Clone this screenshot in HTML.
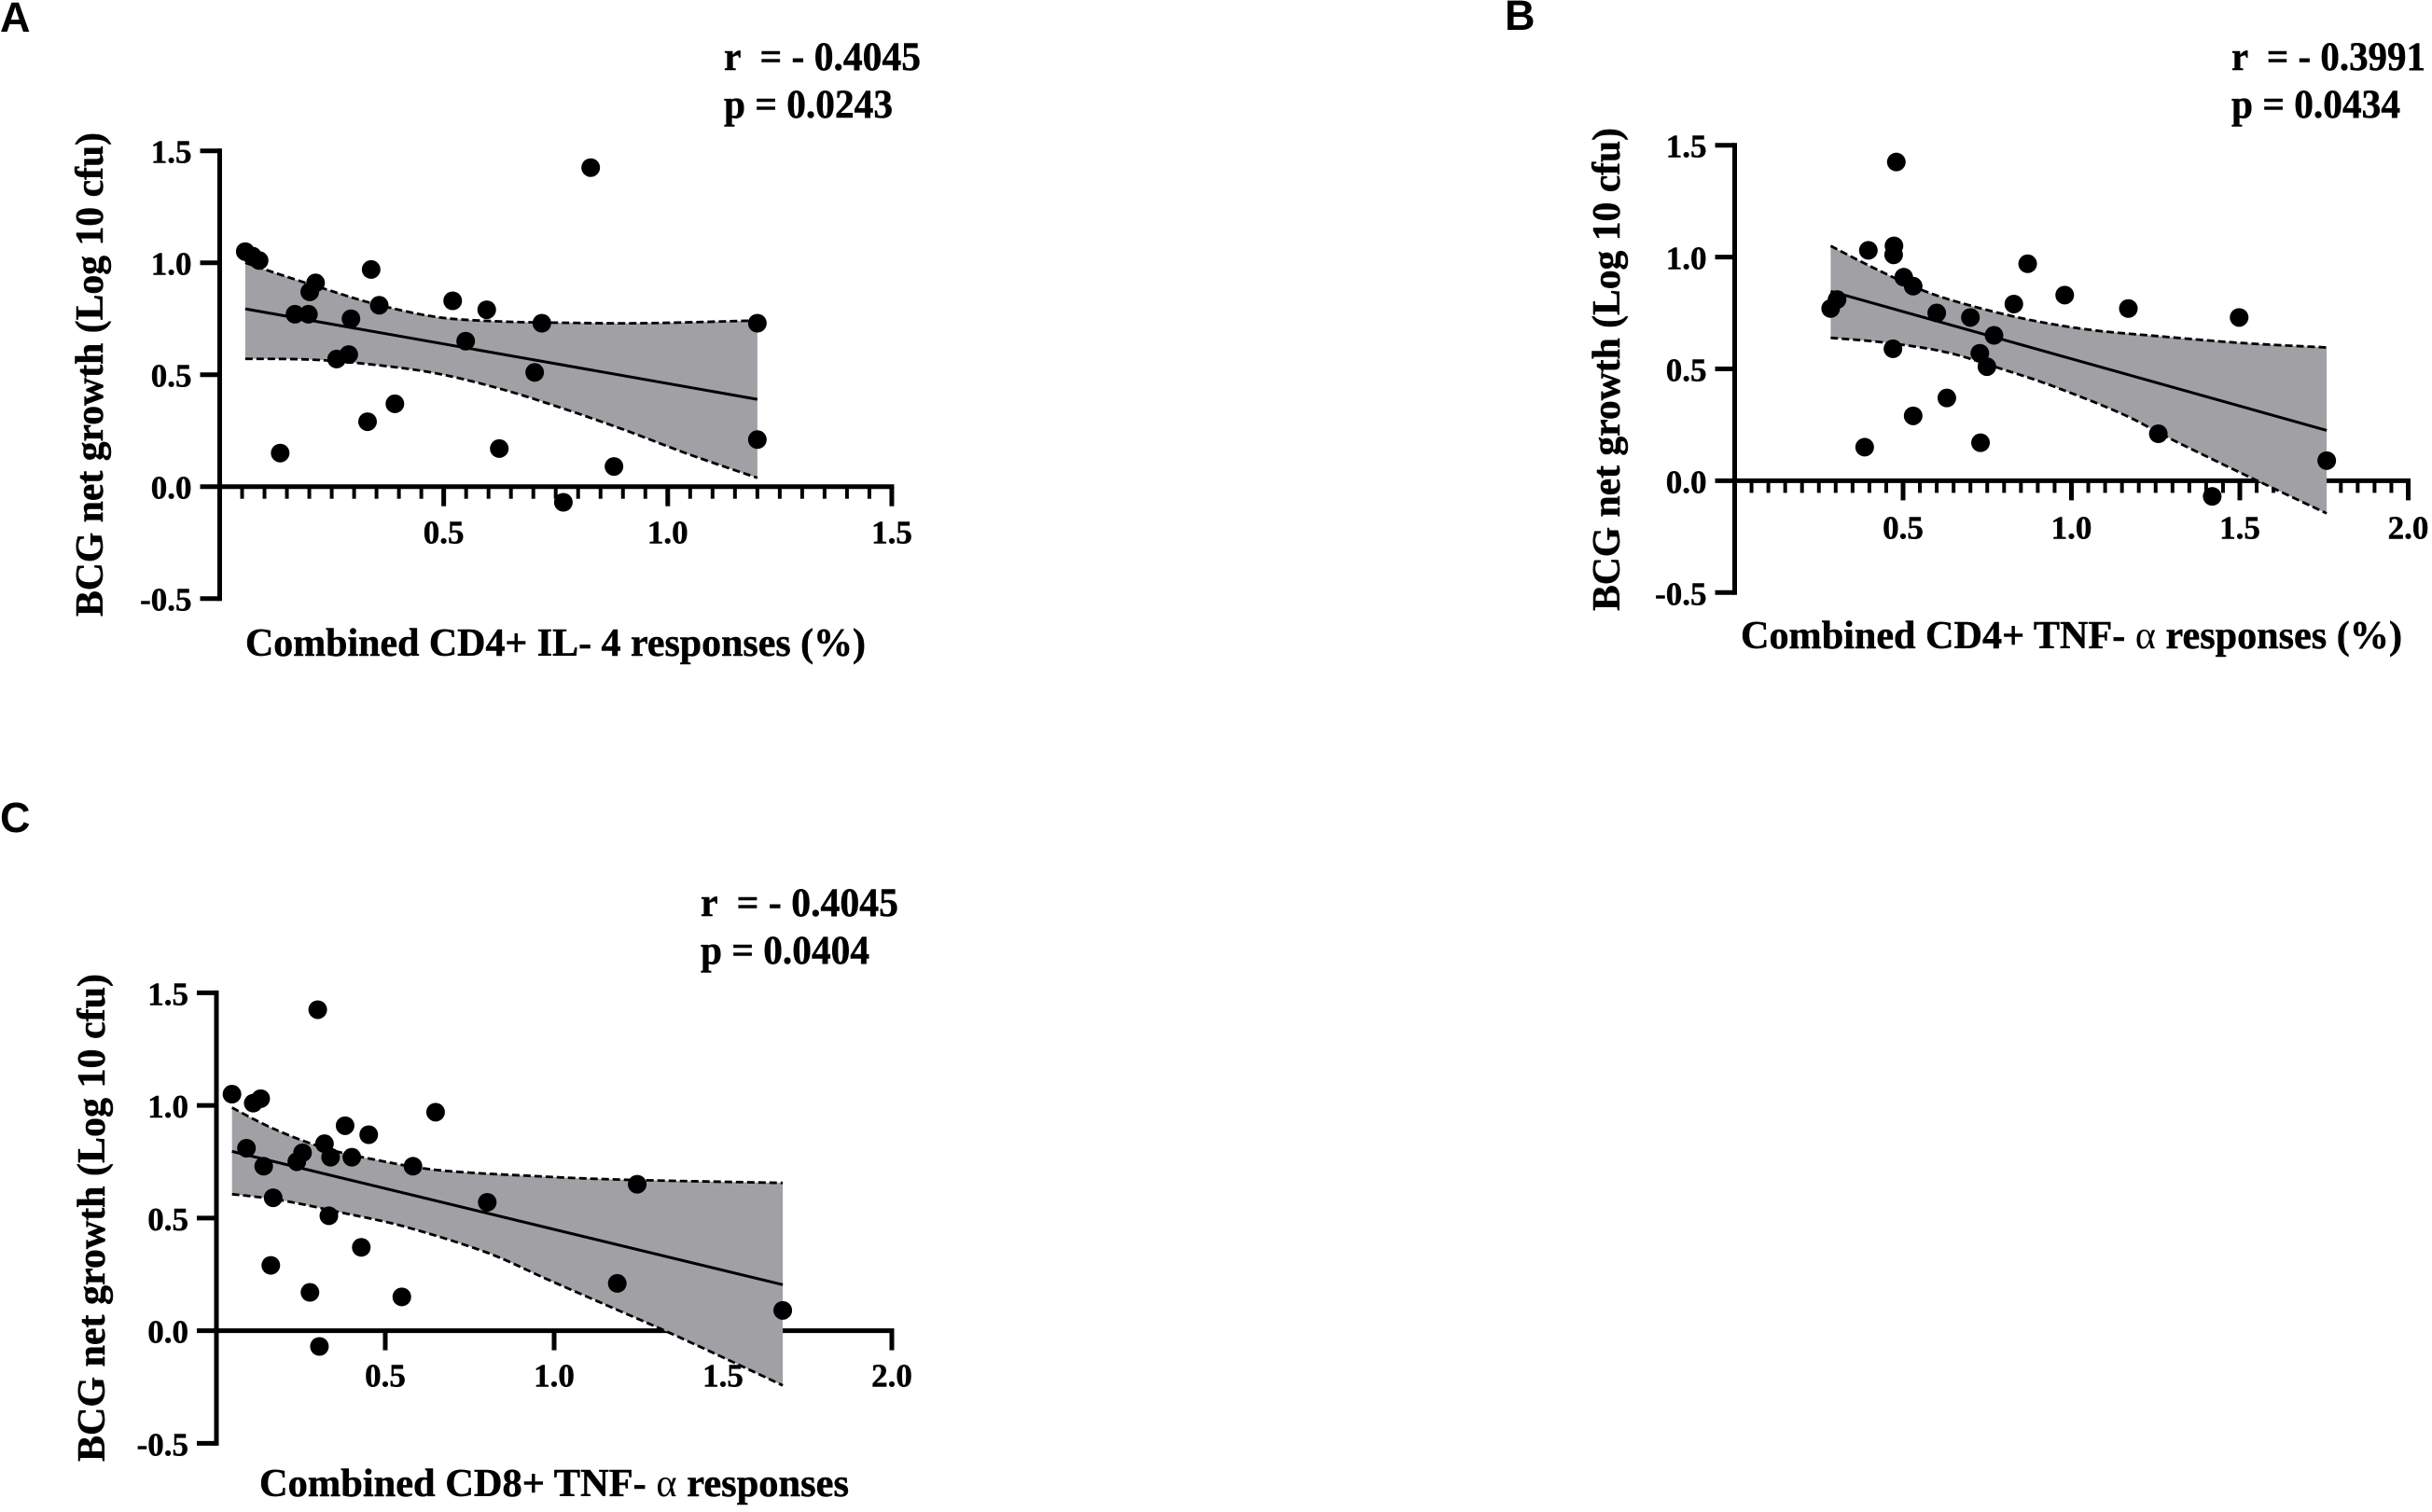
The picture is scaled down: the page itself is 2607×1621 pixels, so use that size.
<!DOCTYPE html>
<html lang="en">
<head>
<meta charset="utf-8">
<title>BCG net growth correlations</title>
<style>
html,body{margin:0;padding:0;background:#fff;}
svg{display:block;}
text{font-family:"Liberation Serif",serif;font-weight:bold;fill:#000;stroke:#000;stroke-width:.5px;}
.letter{font-family:"Liberation Sans",sans-serif;font-size:45px;stroke-width:0;}
.stat{font-size:43px;}
.title{font-size:42px;}
.tick{font-size:35px;}
.alpha{font-weight:normal;stroke-width:0;}
</style>
</head>
<body>
<svg id="figure" xmlns="http://www.w3.org/2000/svg" width="2607" height="1621" viewBox="0 0 2607 1621">
  <rect width="2607" height="1621" fill="#fff"/>

  <g id="panel-a"></g>
  <g id="panel-b"></g>
  <g id="panel-c"></g>

  <text class="letter" x="0" y="34">A</text>
  <text class="letter" x="1613" y="32">B</text>
  <text class="letter" x="0" y="892">C</text>

  <text class="stat" x="776" y="75" textLength="211" lengthAdjust="spacingAndGlyphs" xml:space="preserve">r  = - 0.4045</text>
  <text class="stat" x="776" y="126" textLength="181" lengthAdjust="spacingAndGlyphs">p = 0.0243</text>
  <text class="stat" x="2392" y="75" textLength="208" lengthAdjust="spacingAndGlyphs" xml:space="preserve">r  = - 0.3991</text>
  <text class="stat" x="2392" y="126" textLength="181" lengthAdjust="spacingAndGlyphs">p = 0.0434</text>
  <text class="stat" x="751" y="982" textLength="212" lengthAdjust="spacingAndGlyphs" xml:space="preserve">r  = - 0.4045</text>
  <text class="stat" x="751" y="1033" textLength="181" lengthAdjust="spacingAndGlyphs">p = 0.0404</text>

  <text class="title" transform="translate(110 661) rotate(-90)" textLength="519" lengthAdjust="spacingAndGlyphs">BCG net growth (Log 10 cfu)</text>
  <text class="title" transform="translate(1736 655) rotate(-90)" textLength="518" lengthAdjust="spacingAndGlyphs">BCG net growth (Log 10 cfu)</text>
  <text class="title" transform="translate(112 1567) rotate(-90)" textLength="523" lengthAdjust="spacingAndGlyphs">BCG net growth (Log 10 cfu)</text>

  <text class="title" x="263" y="703" textLength="665" lengthAdjust="spacingAndGlyphs">Combined CD4+ IL- 4 responses (%)</text>
  <text class="title" x="1866" y="695" textLength="709" lengthAdjust="spacingAndGlyphs">Combined CD4+ TNF- <tspan class="alpha">α</tspan> responses (%)</text>
  <text class="title" x="278" y="1604" textLength="632" lengthAdjust="spacingAndGlyphs">Combined CD8+ TNF- <tspan class="alpha">α</tspan> responses</text>
</svg>

<script>
// Shared y tick labels
const yTickValues = [-0.5, 0, 0.5, 1.0, 1.5];

// Panel A data
const aXTicks = [0.5, 1.0, 1.5];
const aDotsX = [0.828,0.057,0.073,0.088,0.338,0.214,0.201,0.52,0.356,0.596,0.168,0.198,0.293,0.719,1.2,0.549,0.288,0.261,0.703,0.391,0.33,1.2,0.624,0.135,0.88,0.767];
const aDotsY = [1.425,1.05,1.03,1.01,0.97,0.91,0.87,0.83,0.81,0.79,0.77,0.77,0.75,0.73,0.73,0.65,0.59,0.57,0.51,0.37,0.29,0.21,0.17,0.15,0.09,-0.07];
const aFitX = [0.057,1.2];
const aFitY = [0.794,0.39];
const aUpperX = [0.057,0.123,0.235,0.346,0.486,0.626,0.765,0.947,1.2];
const aUpperY = [1.0,0.955,0.883,0.816,0.757,0.738,0.732,0.73,0.742];
const aLowerX = [0.057,0.207,0.346,0.486,0.626,0.765,0.905,1.045,1.2];
const aLowerY = [0.571,0.567,0.544,0.505,0.437,0.35,0.252,0.146,0.039];

// Panel B data
const bXTicks = [0.5, 1.0, 1.5, 2.0];
const bDotsX = [0.48,0.473,0.397,0.472,0.87,0.502,0.53,0.98,0.304,0.829,0.285,1.169,0.6,0.70,1.498,0.77,0.47,0.728,0.749,0.63,0.53,1.258,0.73,0.386,1.758,1.418];
const bDotsY = [1.425,1.05,1.03,1.01,0.97,0.91,0.87,0.83,0.81,0.79,0.77,0.77,0.75,0.73,0.73,0.65,0.59,0.57,0.51,0.37,0.29,0.21,0.17,0.15,0.09,-0.07];
const bFitX = [0.285,1.758];
const bFitY = [0.847,0.225];
const bUpperX = [0.285,0.42,0.562,0.705,0.883,1.06,1.238,1.505,1.758];
const bUpperY = [1.05,0.946,0.849,0.781,0.717,0.674,0.649,0.616,0.596];
const bLowerX = [0.285,0.456,0.633,0.794,0.943,1.149,1.284,1.42,1.552,1.758];
const bLowerY = [0.639,0.616,0.573,0.499,0.424,0.3,0.195,0.095,0.0,-0.146];

// Panel C data
const cXTicks = [0.5, 1.0, 1.5, 2.0];
const cDotsX = [0.30,0.046,0.131,0.109,0.649,0.381,0.451,0.32,0.089,0.255,0.238,0.338,0.401,0.14,0.582,1.246,0.168,0.802,0.333,0.429,0.161,1.187,0.277,0.549,1.677,0.305];
const cDotsY = [1.425,1.05,1.03,1.01,0.97,0.91,0.87,0.83,0.81,0.79,0.75,0.77,0.77,0.73,0.73,0.65,0.59,0.57,0.51,0.37,0.29,0.21,0.17,0.15,0.09,-0.07];
const cFitX = [0.046,1.677];
const cFitY = [0.796,0.204];
const cUpperX = [0.046,0.174,0.322,0.47,0.654,0.932,1.209,1.677];
const cUpperY = [0.99,0.893,0.81,0.759,0.713,0.687,0.67,0.656];
const cLowerX = [0.046,0.192,0.377,0.562,0.802,0.987,1.209,1.394,1.677];
const cLowerY = [0.606,0.579,0.522,0.46,0.346,0.223,0.078,-0.045,-0.243];

const SVG_NS = 'http://www.w3.org/2000/svg';

function smoothPath(px, py, moveFirst) {
  let d = (moveFirst ? 'M' : 'L') + px[0].toFixed(1) + ' ' + py[0].toFixed(1);
  for (let i = 0; i < px.length - 1; i++) {
    const i0 = Math.max(i - 1, 0), i3 = Math.min(i + 2, px.length - 1);
    const c1x = px[i] + (px[i + 1] - px[i0]) / 6, c1y = py[i] + (py[i + 1] - py[i0]) / 6;
    const c2x = px[i + 1] - (px[i3] - px[i]) / 6, c2y = py[i + 1] - (py[i3] - py[i]) / 6;
    d += ' C' + c1x.toFixed(1) + ' ' + c1y.toFixed(1) + ' ' + c2x.toFixed(1) + ' ' + c2y.toFixed(1) + ' ' + px[i + 1].toFixed(1) + ' ' + py[i + 1].toFixed(1);
  }
  return d;
}

function shape(parent, tag, attrs) {
  const el = document.createElementNS(SVG_NS, tag);
  for (const k in attrs) el.setAttribute(k, attrs[k]);
  parent.appendChild(el);
  return el;
}

function drawPanel(id, layout, data) {
  const g = document.getElementById(id);
  const sx = v => layout.x0 + v * layout.xUnit;
  const sy = v => layout.y0 - v * layout.yUnit;
  const xMax = data.xTicks[data.xTicks.length - 1];

  // y axis
  const yAxis = shape(g, 'line', {x1: sx(0), x2: sx(0), y1: sy(1.5) - 2.5, y2: sy(-0.5) + 2.5, stroke: '#000', 'stroke-width': 5});
  
  

  yTickValues.forEach(v => {
    const tick = shape(g, 'line', {x1: sx(0) - 21, x2: sx(0), y1: sy(v), y2: sy(v), stroke: '#000', 'stroke-width': 5});
    
    
    const label = shape(g, 'text', {x: sx(0) - 30, y: sy(v) + 13, 'text-anchor': 'end', class: 'tick'});
    
    
    label.textContent = v.toFixed(1);
  });

  // x axis
  const xAxis = shape(g, 'line', {x1: sx(0), x2: sx(xMax) + 2.5, y1: sy(0), y2: sy(0), stroke: '#000', 'stroke-width': 5});
  
  

  if (layout.minorStep) {
    const n = Math.round(xMax / layout.minorStep);
    for (let i = 1; i < n; i++) {
      const minor = shape(g, 'line', {x1: sx(i * layout.minorStep), x2: sx(i * layout.minorStep), y1: sy(0), y2: sy(0) + 13, stroke: '#000', 'stroke-width': 4});
      
      
    }
  }
  data.xTicks.forEach(v => {
    const tick = shape(g, 'line', {x1: sx(v), x2: sx(v), y1: sy(0), y2: sy(0) + 21, stroke: '#000', 'stroke-width': 5});
    
    
    const label = shape(g, 'text', {x: sx(v), y: sy(0) + layout.xLabelOffset, 'text-anchor': 'middle', class: 'tick'});
    
    
    label.textContent = v.toFixed(1);
  });

  // confidence band (painted over the axes, as in the source figure)
  const ux = data.upperX.map(sx), uy = data.upperY.map(sy);
  const lx = data.lowerX.map(sx), ly = data.lowerY.map(sy);
  const bandD = smoothPath(ux, uy, true) + ' ' +
    smoothPath(lx.slice().reverse(), ly.slice().reverse(), false) + ' Z';
  const band = shape(g, 'path', {d: bandD, fill: '#a0a0a5', stroke: 'none'});
  
  

  const upper = shape(g, 'path', {d: smoothPath(ux, uy, true), fill: 'none', stroke: '#000', 'stroke-width': 2.8, 'stroke-dasharray': '8 4'});
  
  

  const lower = shape(g, 'path', {d: smoothPath(lx, ly, true), fill: 'none', stroke: '#000', 'stroke-width': 2.8, 'stroke-dasharray': '8 4'});
  
  

  // fit line
  const fit = shape(g, 'line', {x1: sx(data.fitX[0]), y1: sy(data.fitY[0]), x2: sx(data.fitX[1]), y2: sy(data.fitY[1]), stroke: '#000', 'stroke-width': 3});
  
  

  // points
  data.dotsX.forEach((v, i) => {
    const dot = shape(g, 'circle', {cx: sx(v), cy: sy(data.dotsY[i]), r: 10, fill: '#000'});
    
    
  });
}

drawPanel('panel-a',
  {x0: 235.5, xUnit: 480.3, y0: 521.7, yUnit: 240, minorStep: 0.05, xLabelOffset: 61},
  {xTicks: aXTicks, dotsX: aDotsX, dotsY: aDotsY, fitX: aFitX, fitY: aFitY, upperX: aUpperX, upperY: aUpperY, lowerX: aLowerX, lowerY: aLowerY});
drawPanel('panel-b',
  {x0: 1859.5, xUnit: 361, y0: 515.4, yUnit: 239.8, minorStep: 0.05, xLabelOffset: 62},
  {xTicks: bXTicks, dotsX: bDotsX, dotsY: bDotsY, fitX: bFitX, fitY: bFitY, upperX: bUpperX, upperY: bUpperY, lowerX: bLowerX, lowerY: bLowerY});
drawPanel('panel-c',
  {x0: 232, xUnit: 362, y0: 1426.6, yUnit: 241.5, minorStep: 0, xLabelOffset: 60},
  {xTicks: cXTicks, dotsX: cDotsX, dotsY: cDotsY, fitX: cFitX, fitY: cFitY, upperX: cUpperX, upperY: cUpperY, lowerX: cLowerX, lowerY: cLowerY});
</script>
</body>
</html>
